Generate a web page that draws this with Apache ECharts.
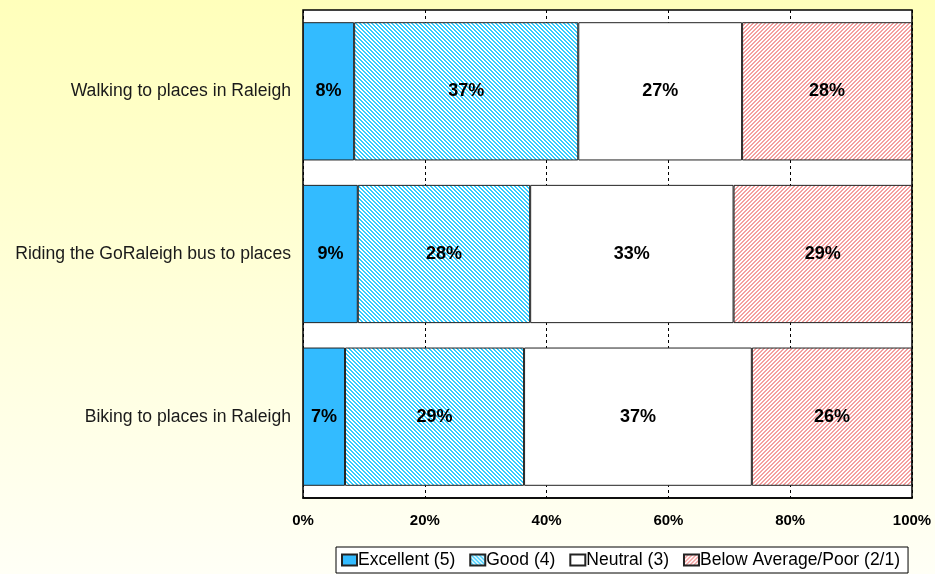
<!DOCTYPE html>
<html><head><meta charset="utf-8">
<script src="https://cdn.jsdelivr.net/npm/echarts@6/dist/echarts.min.js"></script>
<style>html,body{margin:0;padding:0;}#c{width:935px;height:574px;}</style>
</head><body><div id="c"></div>
<script>
const categories = ['Walking to places in Raleigh', 'Riding the GoRaleigh bus to places', 'Biking to places in Raleigh'];
const seriesNames = ['Excellent (5)', 'Good (4)', 'Neutral (3)', 'Below Average/Poor (2/1)'];
const excellent = [8.4, 9.0, 6.9];
const good = [36.8, 28.3, 29.4];
const neutral = [26.9, 33.4, 37.4];
const poor = [27.9, 29.3, 26.3];
const xTicks = [0, 20, 40, 60, 80, 100];

function hatch(color, dir) {
  const c = document.createElement('canvas');
  c.width = 4; c.height = 4;
  const g = c.getContext('2d');
  g.fillStyle = '#ffffff'; g.fillRect(0, 0, 4, 4);
  g.fillStyle = color;
  for (let i = 0; i < 4; i++) {
    const x = dir > 0 ? i : 3 - i;
    g.fillRect(x, i, 1, 1);
    g.fillRect((x + 1) % 4, i, 1, 1);
  }
  return { image: c, repeat: 'repeat' };
}

const fills = ['#33BBFF', hatch('#33CCFF', 1), '#ffffff', hatch('#F4A0A0', -1)];
const values = [excellent, good, neutral, poor];

const chart = echarts.init(document.getElementById('c'));
chart.setOption({
  backgroundColor: { type: 'linear', x: 0, y: 0, x2: 0, y2: 1, colorStops: [
    { offset: 0, color: '#FFFFBB' }, { offset: 1, color: '#FFFFF6' }] },
  textStyle: { fontFamily: 'Liberation Sans, Arial, sans-serif' },
  animation: false,
  grid: { left: 303, right: 23, top: 10, bottom: 76, show: true, backgroundColor: '#ffffff', borderColor: '#000', borderWidth: 1.5 },
  xAxis: {
    type: 'value', min: 0, max: 100, interval: 20,
    axisLine: { show: true, lineStyle: { color: '#000', width: 1.5 } },
    axisTick: { show: false },
    splitLine: { show: true, lineStyle: { color: '#000', type: [3, 3], width: 1 } },
    axisLabel: { color: '#000', fontWeight: 'bold', fontSize: 15, margin: 15,
      formatter: v => xTicks.includes(v) ? v + '%' : '' }
  },
  yAxis: {
    type: 'category', data: categories, inverse: true,
    axisLine: { show: false }, axisTick: { show: false },
    axisLabel: { color: '#1a1a1a', fontSize: 17.6, margin: 12 }
  },
  legend: {
    bottom: 1, left: 336, orient: 'horizontal',
    backgroundColor: '#ffffff', borderColor: '#000', borderWidth: 1,
    padding: [4, 8, 4, 5], itemGap: 14, itemWidth: 15, itemHeight: 11, icon: 'rect',
    textStyle: { color: '#000', fontSize: 17.5, padding: [0, 0, 0, -4] },
    data: seriesNames
  },
  series: seriesNames.map((n, i) => ({
    name: n, type: 'bar', stack: 'total', data: values[i],
    barCategoryGap: '15%',
    itemStyle: { color: fills[i], borderColor: '#222', borderWidth: 1 },
    label: { show: true, position: 'inside', color: '#000', fontWeight: 'bold', fontSize: 18,
      formatter: p => Math.round(p.value) + '%' }
  }))
});
</script></body></html>
